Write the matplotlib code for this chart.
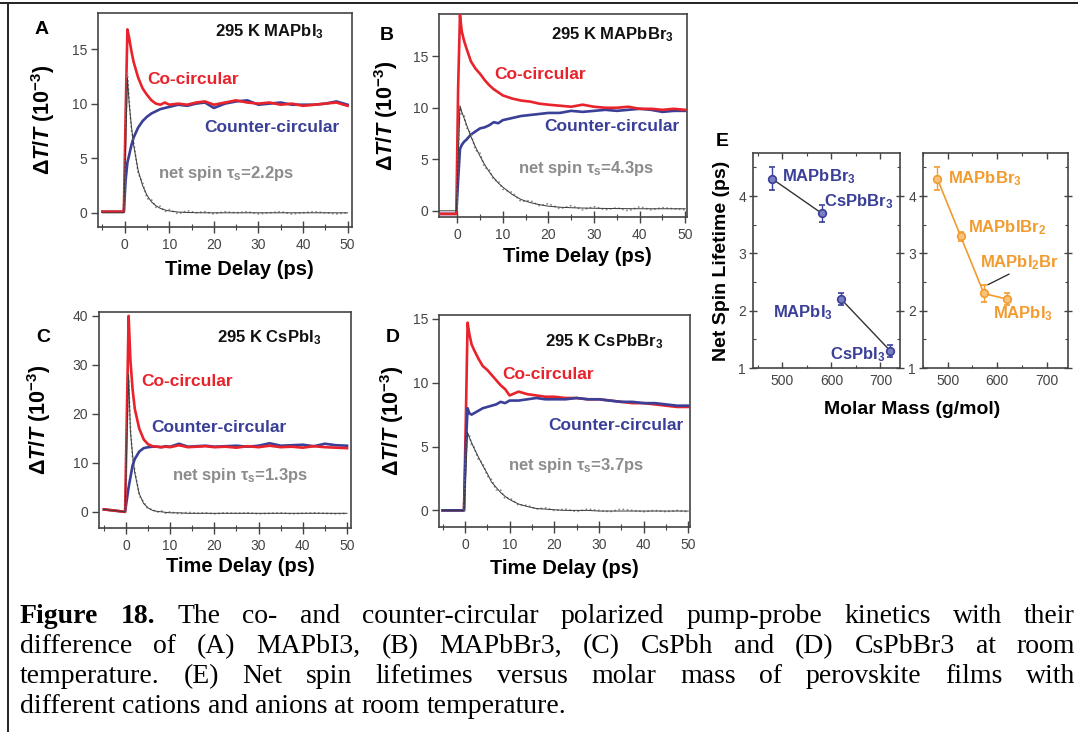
import matplotlib
matplotlib.use("Agg")
import matplotlib.pyplot as plt
from matplotlib.ticker import MultipleLocator

plt.rcParams['font.family'] = ['Liberation Sans', 'DejaVu Sans']
plt.rcParams['mathtext.fontset'] = 'custom'
plt.rcParams['mathtext.rm'] = 'Liberation Sans:bold'
plt.rcParams['mathtext.it'] = 'Liberation Sans:italic:bold'
plt.rcParams['mathtext.bf'] = 'Liberation Sans:bold'

W, H = 1078, 732

# ---- data ----
t_ps = [-5, -0.2, 0.2, 0.6, 1, 1.5, 2, 3, 4, 5, 6, 7, 8, 9, 10, 12, 14, 16, 18, 20,
        22.5, 25, 27.5, 30, 32.5, 35, 37.5, 40, 42.5, 45, 47.5, 50]

a_co = [0.1, 0.1, 9.0, 16.8, 16.0, 14.8, 13.8, 12.4, 11.4, 10.8, 10.3, 10.0, 9.9, 10.1, 9.9, 10.0,
        9.9, 10.1, 10.2, 9.9, 10.1, 10.3, 10.1, 10.0, 10.1, 9.9, 10.0, 9.8, 9.9, 10.0, 10.1, 9.8]
a_counter = [0.1, 0.1, 3.0, 4.6, 5.3, 6.2, 6.9, 7.8, 8.4, 8.8, 9.1, 9.3, 9.5, 9.6, 9.7, 9.9,
             9.8, 10.0, 10.1, 9.6, 10.0, 10.2, 10.3, 9.9, 10.0, 10.1, 9.9, 9.9, 9.9, 10.0, 10.2, 9.9]
a_fit = [0.0, 0.0, 6.0, 12.4, 10.0, 7.9, 6.2, 3.9, 2.5, 1.6, 1.0, 0.65, 0.4, 0.26, 0.17, 0.07,
         0.03, 0.01, 0, 0, 0, 0, 0, 0, 0, 0, 0, 0, 0, 0, 0, 0]
a_net = [0.0, 0.1, 6.5, 12.8, 10.3, 7.6, 6.5, 3.6, 2.8, 1.3, 1.2, 0.5, 0.6, 0.1, 0.3, -0.1,
         0.2, 0.0, 0.1, -0.1, 0.1, 0.0, 0.1, -0.1, 0.0, 0.1, -0.1, 0.0, 0.1, 0.0, -0.1, 0.0]

b_co = [-0.3, -0.3, 12.0, 19.0, 17.4, 16.5, 15.8, 14.5, 13.8, 13.3, 12.7, 12.2, 11.8, 11.5, 11.2, 10.9,
        10.7, 10.6, 10.4, 10.3, 10.2, 10.1, 10.3, 10.1, 10.0, 10.0, 10.1, 9.9, 9.9, 9.8, 9.9, 9.8]
b_counter = [-0.3, -0.3, 3.0, 6.0, 6.4, 6.7, 6.9, 7.4, 7.7, 8.0, 8.1, 8.3, 8.6, 8.5, 8.8, 9.0,
             9.2, 9.3, 9.4, 9.5, 9.5, 9.7, 9.6, 9.7, 9.8, 9.7, 9.8, 9.9, 9.8, 9.6, 9.7, 9.7]
b_fit = [0, 0, 5.0, 10.2, 9.6, 9.0, 8.4, 7.2, 6.2, 5.3, 4.5, 3.8, 3.2, 2.7, 2.3, 1.6,
         1.1, 0.8, 0.6, 0.45, 0.35, 0.3, 0.27, 0.25, 0.23, 0.22, 0.21, 0.2, 0.2, 0.2, 0.2, 0.2]
b_net = [0, 0, 5.5, 10.0, 9.4, 9.3, 8.1, 7.5, 5.9, 5.6, 4.2, 4.0, 3.0, 2.9, 2.1, 1.8,
         0.9, 1.0, 0.5, 0.7, 0.2, 0.5, 0.1, 0.4, 0.1, 0.3, 0.0, 0.4, 0.1, 0.3, 0.2, 0.1]

c_co = [0.5, 0.0, 20.0, 40.0, 31.0, 25.0, 21.0, 17.0, 14.8, 13.8, 13.4, 13.3, 13.2, 13.3, 13.2, 13.6,
        13.2, 13.3, 13.4, 13.2, 13.3, 13.1, 13.4, 13.2, 13.5, 13.2, 13.3, 13.1, 13.4, 13.2, 13.1, 13.0]
c_counter = [0.5, 0.0, 2.5, 5.0, 7.0, 9.5, 10.8, 12.3, 13.0, 13.2, 13.3, 13.3, 13.2, 13.4, 13.3, 13.9,
             13.3, 13.4, 13.5, 13.3, 13.4, 13.5, 13.3, 13.5, 14.0, 13.5, 13.6, 13.7, 13.4, 13.9, 13.6, 13.5]
c_fit = [0.5, 0.0, 14.0, 28.0, 16.5, 11.5, 7.9, 3.7, 1.7, 0.8, 0.3, 0.1, 0.0, -0.1, -0.2, -0.2,
         -0.3, -0.3, -0.3, -0.3, -0.3, -0.3, -0.3, -0.3, -0.3, -0.3, -0.3, -0.3, -0.3, -0.3, -0.3, -0.3]
c_net = [0.5, 0.0, 15.0, 27.0, 17.5, 10.8, 8.5, 3.3, 2.0, 0.6, 0.5, -0.1, 0.2, -0.3, 0.0, -0.4,
         -0.1, -0.3, -0.2, -0.4, -0.2, -0.3, -0.2, -0.4, -0.3, -0.2, -0.4, -0.3, -0.2, -0.3, -0.4, -0.3]

d_co = [0.0, 0.0, 7.0, 14.7, 13.8, 13.0, 12.6, 11.9, 11.3, 11.0, 10.6, 10.2, 9.8, 9.5, 9.0, 9.3,
        9.1, 9.0, 8.9, 8.9, 8.8, 8.8, 8.7, 8.7, 8.6, 8.5, 8.4, 8.4, 8.3, 8.2, 8.1, 8.1]
d_counter = [0.0, 0.0, 5.0, 8.0, 7.6, 7.5, 7.6, 7.8, 8.0, 8.1, 8.2, 8.3, 8.5, 8.4, 8.6, 8.6,
             8.7, 8.8, 8.7, 8.7, 8.7, 8.8, 8.7, 8.7, 8.6, 8.5, 8.5, 8.4, 8.4, 8.3, 8.2, 8.2]
d_fit = [0, 0, 3.0, 6.1, 5.7, 5.3, 4.9, 4.2, 3.5, 2.9, 2.2, 1.8, 1.4, 1.1, 0.85, 0.5,
         0.3, 0.15, 0.1, 0.05, 0.0, 0.0, 0.0, -0.05, -0.05, -0.05, -0.05, -0.05, -0.05, -0.05, -0.05, -0.05]
d_net = [0, 0, 3.5, 6.0, 5.9, 5.1, 5.0, 4.0, 3.7, 2.7, 2.4, 1.6, 1.6, 0.9, 1.0, 0.4,
         0.4, 0.1, 0.2, 0.0, 0.1, -0.1, 0.1, 0.0, -0.1, 0.1, 0.0, -0.1, 0.0, -0.1, 0.0, -0.1]

panel_titles = ["295 K MAPbI$_3$", "295 K MAPbBr$_3$", "295 K CsPbI$_3$", "295 K CsPbBr$_3$"]
spin_labels = ["net spin τ$_\\mathrm{s}$=2.2ps", "net spin τ$_\\mathrm{s}$=4.3ps",
               "net spin τ$_\\mathrm{s}$=1.3ps", "net spin τ$_\\mathrm{s}$=3.7ps"]

# panel E: molar mass (g/mol), lifetime (ps), error (ps)
cation_names = ["MAPbBr$_3$", "CsPbBr$_3$", "MAPbI$_3$", "CsPbI$_3$"]
cation_mass = [479, 580, 620, 720]
cation_tau = [4.3, 3.7, 2.2, 1.3]
cation_err = [0.2, 0.15, 0.1, 0.1]

anion_names = ["MAPbBr$_3$", "MAPbIBr$_2$", "MAPbI$_2$Br", "MAPbI$_3$"]
anion_mass = [479, 526, 573, 620]
anion_tau = [4.3, 3.3, 2.3, 2.2]
anion_err = [0.2, 0.08, 0.15, 0.1]

caption = [
    "Figure 18. The co- and counter-circular polarized pump-probe kinetics with their",
    "difference of (A) MAPbI3, (B) MAPbBr3, (C) CsPbh and (D) CsPbBr3 at room",
    "temperature. (E) Net spin lifetimes versus molar mass of perovskite films with",
    "different cations and anions at room temperature.",
]

RED = '#e8232b'
BLUE = '#3a3f97'
GRAY = '#8c8c8c'
ORANGE = '#f29b2e'
TICKC = '#444444'


def fig_rect(l, t, r, b):
    return [l / W, 1 - b / H, (r - l) / W, (b - t) / H]


fig = plt.figure(figsize=(W / 100, H / 100), dpi=100)

traces = [
    (a_co, a_counter, a_fit, a_net),
    (b_co, b_counter, b_fit, b_net),
    (c_co, c_counter, c_fit, c_net),
    (d_co, d_counter, d_fit, d_net),
]
layouts = [
    dict(box=(98, 13, 352, 227), xlim=(-6, 51), ylim=(-1.3, 18.3), ystep=5, letter=(42, 30),
         title=(0.677, 0.915), co=(0.374, 0.687), cnt=(0.685, 0.467), net=(0.504, 0.252),
         ylab=-0.161, xlab=(0.555, -0.154), red_top=True),
    dict(box=(439, 14, 687, 217), xlim=(-4, 50.4), ylim=(-0.6, 19.1), ystep=5, letter=(387, 35),
         title=(0.70, 0.90), co=(0.407, 0.704), cnt=(0.697, 0.448), net=(0.593, 0.241),
         ylab=-0.157, xlab=(0.556, -0.148), red_top=True),
    dict(box=(99, 312, 351, 528), xlim=(-6.1, 50.9), ylim=(-3.3, 40.8), ystep=10, letter=(43, 337),
         title=(0.675, 0.88), co=(0.349, 0.676), cnt=(0.474, 0.463), net=(0.56, 0.245),
         ylab=-0.183, xlab=(0.56, -0.134), red_top=True),
    dict(box=(439, 315, 690, 527), xlim=(-5.8, 50.4), ylim=(-1.3, 15.3), ystep=5, letter=(393, 337),
         title=(0.657, 0.873), co=(0.434, 0.72), cnt=(0.705, 0.48), net=(0.546, 0.292),
         ylab=-0.131, xlab=(0.50, -0.151), red_top=False),
]

for (co, cnt, fit, net), lay, title, spin, letter in zip(traces, layouts, panel_titles, spin_labels, "ABCD"):
    ax = fig.add_axes(fig_rect(*lay['box']))
    zr, zb = (3, 2) if lay['red_top'] else (2, 3)
    ax.plot(t_ps, cnt, color=BLUE, lw=1.9, zorder=zb)
    ax.plot(t_ps, co, color=RED, lw=1.9, zorder=zr)
    ax.plot(t_ps[1:], net[1:], color='#8a8a8a', lw=1.2, ls=(0, (1, 1.5)), zorder=4)
    ax.plot(t_ps, fit, color='#3a3a3a', lw=0.7, zorder=5)
    ax.set_xlim(*lay['xlim'])
    ax.set_ylim(*lay['ylim'])
    ax.xaxis.set_major_locator(MultipleLocator(10))
    ax.xaxis.set_minor_locator(MultipleLocator(5))
    ax.yaxis.set_major_locator(MultipleLocator(lay['ystep']))
    ax.tick_params(axis='x', which='major', direction='inout', length=8, width=1.0, color=TICKC,
                   labelsize=10, labelcolor=TICKC, pad=4)
    ax.tick_params(axis='x', which='minor', direction='inout', length=4, width=0.8, color=TICKC)
    ax.tick_params(axis='y', direction='out', length=5, width=1.0, color=TICKC, labelsize=10,
                   labelcolor=TICKC, pad=3)
    for s in ax.spines.values():
        s.set_linewidth(1.2)
        s.set_color('#444444')
    ax.set_xlabel("Time Delay (ps)", fontsize=14.5, fontweight='bold')
    ax.xaxis.set_label_coords(*lay['xlab'])
    ax.set_ylabel("Δ$\\mathit{T/T}$ (10$^{-3}$)", fontsize=15.5, fontweight='bold')
    ax.yaxis.set_label_coords(lay['ylab'], 0.5)
    ax.text(*lay['title'], title, transform=ax.transAxes, ha='center', va='center',
            fontsize=12, fontweight='bold', color='#111111')
    ax.text(*lay['co'], "Co-circular", transform=ax.transAxes, ha='center', va='center',
            fontsize=12.5, fontweight='bold', color=RED)
    ax.text(*lay['cnt'], "Counter-circular", transform=ax.transAxes, ha='center', va='center',
            fontsize=12.5, fontweight='bold', color=BLUE)
    ax.text(*lay['net'], spin, transform=ax.transAxes, ha='center', va='center',
            fontsize=12, fontweight='bold', color=GRAY)
    lx, ly = lay['letter']
    fig.text(lx / W, 1 - ly / H, letter, ha='center', va='center', fontsize=14, fontweight='bold')

# ---- panel E ----
ax_l = fig.add_axes(fig_rect(753, 153, 900, 368))
ax_r = fig.add_axes(fig_rect(923, 153, 1068, 368))

ax_l.plot(cation_mass[:2], cation_tau[:2], color='#333333', lw=1.0, zorder=2)
ax_l.plot(cation_mass[2:], cation_tau[2:], color='#333333', lw=1.0, zorder=2)
ax_l.errorbar(cation_mass, cation_tau, yerr=cation_err, fmt='o', ms=5.5, color=BLUE,
              mfc='#7a7fc4', mec=BLUE, mew=1.2, elinewidth=1.0, capsize=2.5, zorder=3)
ax_r.plot(anion_mass, anion_tau, color=ORANGE, lw=1.2, zorder=2)
ax_r.errorbar(anion_mass, anion_tau, yerr=anion_err, fmt='o', ms=5.5, color=ORANGE,
              mfc='#f7c27e', mec=ORANGE, mew=1.2, elinewidth=1.0, capsize=2.5, zorder=3)

ax_l.set_xlim(440, 740)
ax_r.set_xlim(450, 743)
for ax in (ax_l, ax_r):
    ax.set_ylim(1, 4.75)
    ax.xaxis.set_major_locator(MultipleLocator(100))
    ax.xaxis.set_minor_locator(MultipleLocator(50))
    ax.yaxis.set_major_locator(MultipleLocator(1))
    ax.yaxis.set_minor_locator(MultipleLocator(0.5))
    ax.tick_params(which='both', top=True, right=True, direction='in', color=TICKC)
    ax.tick_params(which='major', length=4, width=1.0, labelsize=10, labelcolor=TICKC, pad=4)
    ax.tick_params(which='minor', length=2.5, width=0.8)
    ax.tick_params(axis='y', which='major', left=True, direction='inout', length=6, pad=2)
    for s in ax.spines.values():
        s.set_linewidth(1.2)
        s.set_color('#444444')

label_pos_l = [(500, 4.33, 'left'), (585, 3.9, 'left'), (603, 1.96, 'right'), (710, 1.23, 'right')]
for name, (x, y, ha) in zip(cation_names, label_pos_l):
    ax_l.text(x, y, name, ha=ha, va='center', fontsize=12, fontweight='bold', color=BLUE)

label_pos_r = [(500, 4.31, 'left'), (541, 3.44, 'left'), (565, 2.83, 'left'), (591, 1.95, 'left')]
for name, (x, y, ha) in zip(anion_names, label_pos_r):
    ax_r.text(x, y, name, ha=ha, va='center', fontsize=12, fontweight='bold', color=ORANGE)
ax_r.annotate("", xy=(anion_mass[2] + 3, anion_tau[2] + 0.13), xytext=(629, 2.66),
              arrowprops=dict(arrowstyle='-', color='#222222', lw=0.9))

ax_l.set_ylabel("Net Spin Lifetime (ps)", fontsize=14, fontweight='bold')
ax_l.yaxis.set_label_coords(-0.156, 0.5)
fig.text(912 / W, 1 - 410 / H, "Molar Mass (g/mol)", ha='center', va='center',
         fontsize=14, fontweight='bold')
fig.text(722 / W, 1 - 142 / H, "E", ha='center', va='center', fontsize=14, fontweight='bold')

# ---- caption, justified between two margins ----
renderer = fig.canvas.get_renderer()
x_left, x_right = 20, 1075
baselines = [623, 653, 683, 713]
probe = fig.text(0, 0, 'a a', fontsize=20, family='Liberation Serif')
probe1 = fig.text(0, 0, 'aa', fontsize=20, family='Liberation Serif')
space = probe.get_window_extent(renderer).width - probe1.get_window_extent(renderer).width
probe.remove()
probe1.remove()
for i, (line, yb) in enumerate(zip(caption, baselines)):
    words = line.split(' ')
    objs = []
    for j, w in enumerate(words):
        bold = (i == 0 and j < 2)
        objs.append(fig.text(0, 1 - yb / H, w, fontsize=20, family='Liberation Serif',
                             fontweight='bold' if bold else 'normal', va='baseline', ha='left'))
    widths = [o.get_window_extent(renderer).width for o in objs]
    if i < len(caption) - 1:
        gap = (x_right - x_left - sum(widths)) / (len(words) - 1)
    else:
        gap = space
    x = x_left
    for o, w in zip(objs, widths):
        o.set_x(x / W)
        x += w + gap

# frame lines of the page
fig.add_artist(plt.Line2D([0, 1], [1 - 3 / H, 1 - 3 / H], color='#222222', lw=1.4))
fig.add_artist(plt.Line2D([8 / W, 8 / W], [0, 1 - 3 / H], color='#222222', lw=1.4))

fig.savefig("out.png", dpi=100)
